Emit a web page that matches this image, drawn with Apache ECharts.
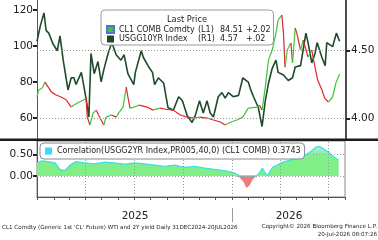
<!DOCTYPE html>
<html>
<head>
<meta charset="utf-8">
<script src="https://cdn.jsdelivr.net/npm/echarts@6/dist/echarts.min.js"></script>
<style>
  html, body { margin: 0; padding: 0; background: #fff; }
  #chart { width: 378px; height: 240px; }
</style>
</head>
<body>
<div id="chart"></div>
<script>
// CL1 COMB Comdty (left axis)
const oilDates = [
  '2024-12-31', '2025-01-03', '2025-01-10', '2025-01-15', '2025-01-21', '2025-01-27', '2025-02-05',
  '2025-02-14', '2025-02-24', '2025-03-05', '2025-03-10', '2025-03-20', '2025-03-28', '2025-04-02',
  '2025-04-04', '2025-04-09', '2025-04-15', '2025-04-21', '2025-04-25', '2025-05-05', '2025-05-09',
  '2025-05-19', '2025-05-28', '2025-06-03', '2025-06-10', '2025-06-16', '2025-06-19', '2025-06-23',
  '2025-07-01', '2025-07-10', '2025-07-25', '2025-08-05', '2025-08-18', '2025-08-29', '2025-09-12',
  '2025-09-25', '2025-10-08', '2025-10-20', '2025-10-31', '2025-11-14', '2025-11-26', '2025-12-09',
  '2025-12-18', '2025-12-29', '2026-01-09', '2026-01-20', '2026-01-30', '2026-02-16', '2026-02-20',
  '2026-02-25', '2026-03-03', '2026-03-09', '2026-03-16', '2026-03-23', '2026-03-27', '2026-04-03',
  '2026-04-06', '2026-04-09', '2026-04-13', '2026-04-20', '2026-04-23', '2026-04-28', '2026-05-01',
  '2026-05-08', '2026-05-13', '2026-05-22', '2026-05-29', '2026-06-04', '2026-06-09', '2026-06-17',
  '2026-06-22', '2026-06-29', '2026-07-07', '2026-07-13', '2026-07-20'
]
const oilValues = [
  71.7, 75.6, 76.7, 80.0, 77.2, 74.4, 72.8,
  71.7, 70.0, 66.1, 67.2, 68.9, 70.0, 71.0,
  60.5, 56.1, 62.8, 64.4, 61.7, 56.1, 60.5,
  61.7, 60.5, 63.3, 66.1, 77.2, 71.7, 65.5,
  66.1, 67.2, 66.1, 64.4, 65.5, 64.9, 64.4,
  61.7, 60.5, 60.0, 60.5, 60.0, 58.9, 57.8,
  56.1, 57.8, 58.9, 60.5, 65.5, 66.1, 67.2,
  64.4, 77.2, 92.2, 97.8, 107.2, 114.4, 117.2,
  107.2, 88.3, 97.8, 101.7, 90.6, 110.0, 107.2,
  97.8, 103.3, 93.9, 97.8, 88.3, 81.1, 75.6,
  71.1, 68.9, 71.7, 79.4, 84.51
]

// USGG10YR Index (right axis)
const rateDates = [
  '2024-12-31', '2025-01-06', '2025-01-13', '2025-01-17', '2025-01-22', '2025-01-30', '2025-02-07',
  '2025-02-12', '2025-02-18', '2025-02-27', '2025-03-05', '2025-03-10', '2025-03-14', '2025-03-24',
  '2025-04-02', '2025-04-07', '2025-04-11', '2025-04-17', '2025-04-24', '2025-04-30', '2025-05-05',
  '2025-05-13', '2025-05-20', '2025-05-28', '2025-06-06', '2025-06-12', '2025-06-19', '2025-06-30',
  '2025-07-03', '2025-07-14', '2025-07-18', '2025-07-28', '2025-08-04', '2025-08-08', '2025-08-15',
  '2025-08-25', '2025-09-02', '2025-09-12', '2025-09-22', '2025-09-29', '2025-10-08', '2025-10-17',
  '2025-10-23', '2025-10-31', '2025-11-07', '2025-11-14', '2025-11-20', '2025-11-26', '2025-12-05',
  '2025-12-12', '2025-12-18', '2025-12-24', '2026-01-02', '2026-01-12', '2026-01-20', '2026-01-26',
  '2026-01-30', '2026-02-03', '2026-02-09', '2026-02-18', '2026-02-25', '2026-03-03', '2026-03-09',
  '2026-03-16', '2026-03-23', '2026-03-27', '2026-04-06', '2026-04-15', '2026-04-23', '2026-04-28',
  '2026-05-08', '2026-05-18', '2026-05-22', '2026-05-29', '2026-06-04', '2026-06-08', '2026-06-17',
  '2026-06-23', '2026-06-26', '2026-07-07', '2026-07-14', '2026-07-20'
]
const rateValues = [
  4.57, 4.68, 4.78, 4.65, 4.63, 4.55, 4.50,
  4.61, 4.43, 4.21, 4.30, 4.30, 4.25, 4.34,
  4.14, 4.01, 4.48, 4.33, 4.42, 4.27, 4.36,
  4.48, 4.56, 4.47, 4.43, 4.47, 4.33, 4.25,
  4.34, 4.50, 4.45, 4.38, 4.34, 4.25, 4.30,
  4.26, 4.08, 4.06, 4.16, 4.13, 4.02, 3.97,
  4.02, 4.13, 4.04, 4.13, 4.04, 4.01, 4.16,
  4.19, 4.15, 4.19, 4.16, 4.17, 4.30, 4.28,
  4.27, 4.22, 4.16, 4.08, 3.94, 4.13, 4.26,
  4.37, 4.43, 4.34, 4.32, 4.28, 4.30, 4.38,
  4.39, 4.63, 4.56, 4.41, 4.48, 4.56, 4.45,
  4.39, 4.56, 4.53, 4.63, 4.57
]

// Correlation (lower panel)
const corrDates = [
  '2024-12-31', '2025-01-09', '2025-01-21', '2025-02-03', '2025-02-12', '2025-02-21', '2025-03-03',
  '2025-03-14', '2025-03-31', '2025-04-18', '2025-05-07', '2025-05-26', '2025-06-14', '2025-07-03',
  '2025-07-21', '2025-08-09', '2025-08-28', '2025-09-15', '2025-10-04', '2025-10-23', '2025-11-11',
  '2025-11-29', '2025-12-14', '2025-12-27', '2026-01-07', '2026-01-15', '2026-01-23', '2026-01-28',
  '2026-02-03', '2026-02-09', '2026-02-16', '2026-02-22', '2026-02-27', '2026-03-05', '2026-03-09',
  '2026-03-18', '2026-03-27', '2026-04-06', '2026-04-19', '2026-05-02', '2026-05-13', '2026-05-21',
  '2026-05-30', '2026-06-08', '2026-06-14', '2026-06-20', '2026-06-27', '2026-07-03', '2026-07-10',
  '2026-07-20'
]
const corrValues = [
  0.30, 0.35, 0.33, 0.30, 0.15, 0.12, 0.25,
  0.33, 0.30, 0.28, 0.32, 0.30, 0.27, 0.30,
  0.28, 0.25, 0.22, 0.25, 0.20, 0.22, 0.18,
  0.15, 0.13, 0.10, 0.06, -0.03, -0.15, -0.28,
  -0.22, -0.08, 0.00, 0.08, 0.18, 0.05, 0.02,
  0.20, 0.25, 0.32, 0.36, 0.41, 0.46, 0.50,
  0.58, 0.67, 0.68, 0.64, 0.58, 0.53, 0.45,
  0.37
]

const oilTicks = [60, 80, 100, 120]
const rateTicks = [4.0, 4.5]
const corrTicks = [0, 0.5]
const monthTicks = [
  '2025-01-01', '2025-02-01', '2025-03-01', '2025-04-01', '2025-05-01', '2025-06-01', '2025-07-01',
  '2025-08-01', '2025-09-01', '2025-10-01', '2025-11-01', '2025-12-01', '2026-01-01', '2026-02-01',
  '2026-03-01', '2026-04-01', '2026-05-01', '2026-06-01', '2026-07-01', '2026-08-01'
]
const quarterLines = ['2025-04-01', '2025-07-01', '2025-10-01', '2026-01-01', '2026-04-01', '2026-07-01']

const oilName = 'CL1 COMB Comdty'
const rateName = 'USGG10YR Index'
const corrName = 'Correlation(USGG2YR Index,PR005,40,0) (CL1 COMB)'
const oilLast = ['(L1)', '84.51', '+2.02']
const rateLast = ['(R1)', '4.57', '+.02']
const corrLast = '0.3743'

const THEME = {
  up: '#3fc43a', down: '#e0262a', rate: '#1f4a2b',
  corrFill: '#80ef88', corrLine: '#3fdfec', corrNeg: '#f07a7a',
  text: '#222', axis: '#555', grid: '#9a9a9a'
}
const FONT = '"DejaVu Sans", Verdana, sans-serif'
const X_MIN = '2024-12-31'
const X_MAX = '2026-08-01'

const chart = echarts.init(document.getElementById('chart'), null, { renderer: 'canvas' })

// up / down coloured segments for the oil price
const oilSegments = []
for (let i = 1; i < oilDates.length; i++) {
  const up = oilValues[i] >= oilValues[i - 1]
  oilSegments.push({
    coords: [[Date.parse(oilDates[i - 1]), oilValues[i - 1]], [Date.parse(oilDates[i]), oilValues[i]]],
    lineStyle: { color: up ? THEME.up : THEME.down }
  })
}

const rateData = rateDates.map((d, i) => [d, rateValues[i]])
const corrPos = corrDates.map((d, i) => [d, Math.max(corrValues[i], 0)])
const corrNeg = corrDates.map((d, i) => [d, Math.min(corrValues[i], 0)])

const dotted = { type: [1, 2], color: THEME.grid, width: 1 }

const yAxisCommon = (ticks, fmt) => ({
  type: 'value',
  axisLine: { show: true, onZero: false, lineStyle: { color: THEME.axis, width: 1 } },
  axisTick: { show: true, customValues: ticks, length: 4, lineStyle: { color: THEME.text, width: 2 } },
  axisLabel: { customValues: ticks, color: THEME.text, fontSize: 10.5, fontFamily: FONT, margin: 4, formatter: fmt },
  splitLine: { show: false }
})

const richCell = w => ({ width: w, fontFamily: FONT, fontSize: 8, color: THEME.text })

const option = {
  backgroundColor: '#fff',
  animation: false,
  grid: [
    { left: 37, right: 32, top: 0, height: 140 },
    { left: 37, right: 33, top: 141, height: 56, show: true, borderColor: '#8a8a8a', borderWidth: 1 }
  ],
  xAxis: [
    { type: 'time', gridIndex: 0, min: X_MIN, max: X_MAX, show: false },
    {
      type: 'time', gridIndex: 1, min: X_MIN, max: X_MAX,
      axisLine: { onZero: false, lineStyle: { color: '#555' } },
      axisTick: { length: 3, customValues: monthTicks.map(d => Date.parse(d)), lineStyle: { color: '#555' } },
      axisLabel: { show: false },
      splitLine: { show: false }
    }
  ],
  yAxis: [
    Object.assign(yAxisCommon(oilTicks, v => String(v)), { gridIndex: 0, position: 'left', min: 47.8, max: 125.6 }),
    Object.assign(yAxisCommon(rateTicks, v => v.toFixed(2)), {
      gridIndex: 0, position: 'right', min: 3.84, max: 4.875,
      axisLine: { show: true, onZero: false, lineStyle: { color: '#111', width: 1.5 } },
      axisLabel: { customValues: rateTicks, color: THEME.text, fontSize: 10.5, fontFamily: FONT, margin: 5, formatter: v => v.toFixed(2) }
    }),
    Object.assign(yAxisCommon(corrTicks, v => v.toFixed(2)), { gridIndex: 1, position: 'left', min: -0.49, max: 0.81 })
  ],
  legend: [
    {
      left: 101, top: 10, orient: 'vertical', selectedMode: false, z: 10,
      padding: [15, 3, 2, 5], itemGap: 1, itemWidth: 7, itemHeight: 7,
      backgroundColor: 'rgba(255,255,255,0.93)', borderColor: '#9a9a9a', borderWidth: 1, borderRadius: 4,
      data: [
        { name: oilName, icon: 'rect', itemStyle: { color: THEME.up } },
        { name: rateName, icon: 'rect', itemStyle: { color: THEME.rate } }
      ],
      formatter: name => {
        const l = name === oilName ? oilLast : rateLast
        return `{n|${name}}{t|${l[0]}}{v|${l[1]}}{c|${l[2]}}`
      },
      textStyle: {
        fontFamily: FONT, fontSize: 8, color: THEME.text,
        rich: { n: richCell(79), t: richCell(22), v: richCell(26), c: richCell(24) }
      }
    },
    {
      left: 40, top: 143, selectedMode: false, z: 10,
      padding: [4, 4, 4, 5], itemWidth: 7, itemHeight: 7,
      backgroundColor: 'rgba(255,255,255,0.85)', borderColor: '#7f8c9c', borderWidth: 1, borderRadius: 4,
      data: [{ name: corrName, icon: 'rect', itemStyle: { color: '#33ddff' } }],
      formatter: name => `${name} ${corrLast}`,
      textStyle: { fontFamily: FONT, fontSize: 8, color: THEME.text }
    }
  ],
  series: [
    {
      name: rateName, type: 'line', xAxisIndex: 0, yAxisIndex: 1,
      data: rateData, showSymbol: false, z: 2,
      lineStyle: { color: THEME.rate, width: 1.6 },
      itemStyle: { color: THEME.rate },
      markLine: {
        silent: true, symbol: ['none', 'none'], label: { show: false },
        lineStyle: dotted,
        data: rateTicks.map(v => ({ yAxis: v }))
      }
    },
    {
      name: oilName, type: 'lines', coordinateSystem: 'cartesian2d', xAxisIndex: 0, yAxisIndex: 0,
      data: oilSegments, z: 3,
      lineStyle: { width: 1.2, opacity: 1 }
    },
    {
      name: corrName, type: 'line', xAxisIndex: 1, yAxisIndex: 2,
      data: corrPos, showSymbol: false, z: 2,
      lineStyle: { color: THEME.corrLine, width: 1.3 },
      itemStyle: { color: THEME.corrLine },
      areaStyle: {
        opacity: 1,
        color: new echarts.graphic.LinearGradient(0, 0, 0, 1, [
          { offset: 0, color: '#a4f3dc' },
          { offset: 0.35, color: THEME.corrFill },
          { offset: 1, color: THEME.corrFill }
        ])
      },
      markLine: {
        silent: true, symbol: ['none', 'none'], label: { show: false },
        lineStyle: dotted,
        data: corrTicks.map(v => ({ yAxis: v })).concat(quarterLines.map(d => ({ xAxis: d })))
      }
    },
    {
      name: 'corr-neg', type: 'line', xAxisIndex: 1, yAxisIndex: 2,
      data: corrNeg, showSymbol: false, z: 2,
      lineStyle: { opacity: 0 },
      areaStyle: { color: THEME.corrNeg, opacity: 1 }
    }
  ],
  graphic: [
    { type: 'rect', z: 20, shape: { x: 0, y: 138.5, width: 378, height: 2.5 }, style: { fill: '#1c1c1c' } },
    { type: 'text', z: 20, x: 187, y: 20, style: { text: 'Last Price', align: 'center', verticalAlign: 'middle', font: `8.3px ${FONT}`, fill: THEME.text } },
    { type: 'text', z: 20, x: 135, y: 216, style: { text: '2025', align: 'center', verticalAlign: 'middle', font: `10.5px ${FONT}`, fill: THEME.text } },
    { type: 'text', z: 20, x: 289, y: 216, style: { text: '2026', align: 'center', verticalAlign: 'middle', font: `10.5px ${FONT}`, fill: THEME.text } },
    { type: 'line', z: 20, shape: { x1: 232.5, y1: 208, x2: 232.5, y2: 222 }, style: { stroke: '#9a9a9a', lineWidth: 1 } },
    { type: 'text', z: 20, x: 2, y: 228, style: { text: "CL1 Comdty (Generic 1st 'CL' Future) WTI and 2Y yield Daily 31DEC2024-20JUL2026", align: 'left', verticalAlign: 'middle', font: `5.6px ${FONT}`, fill: THEME.text } },
    { type: 'text', z: 20, x: 377, y: 227, style: { text: 'Copyright\u00a9 2026 Bloomberg Finance L.P.', align: 'right', verticalAlign: 'middle', font: `5.6px ${FONT}`, fill: THEME.text } },
    { type: 'text', z: 20, x: 377, y: 235, style: { text: '20-Jul-2026 08:07:26', align: 'right', verticalAlign: 'middle', font: `5.6px ${FONT}`, fill: THEME.text } }
  ]
}

chart.setOption(option)
</script>
</body>
</html>
